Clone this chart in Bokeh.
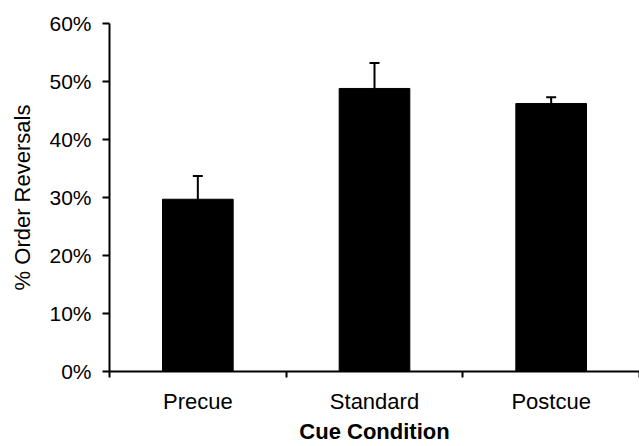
from bokeh.plotting import figure
from bokeh.models import (Range1d, LinearAxis, FixedTicker, NumeralTickFormatter,
                          ColumnDataSource, Whisker, TeeHead)
from bokeh.embed import file_html
from bokeh.resources import INLINE

# ---- data ----
categories = ["Precue", "Standard", "Postcue"]
values = [0.297, 0.488, 0.462]
errors = [0.040, 0.044, 0.011]
y_ticks = [0.0, 0.1, 0.2, 0.3, 0.4, 0.5, 0.6]
x_title = "Cue Condition"
y_title = "% Order Reversals"

xs = [i + 0.5 for i in range(len(categories))]
uppers = [v + e for v, e in zip(values, errors)]
src = ColumnDataSource(dict(x=xs, top=values, upper=uppers))

FONT = "Liberation Sans"

p = figure(width=639, height=446, output_backend="svg", toolbar_location=None,
           x_range=Range1d(0, 3), y_range=Range1d(0, 0.6),
           x_axis_type=None, y_axis_type=None,
           min_border_left=109, min_border_right=0, min_border_top=23,
           min_border_bottom=75)
p.outline_line_color = None
p.xgrid.visible = False
p.ygrid.visible = False
p.background_fill_color = "white"
p.border_fill_color = "white"

p.vbar(x="x", top="top", width=0.4, source=src, fill_color="black", line_color="black")
w = Whisker(base="x", lower="top", upper="upper", source=src,
            line_color="black", line_width=2,
            upper_head=TeeHead(size=10, line_color="black", line_width=2),
            lower_head=None)
p.add_layout(w)

# y axis
ya = LinearAxis(ticker=FixedTicker(ticks=y_ticks, minor_ticks=[]),
                formatter=NumeralTickFormatter(format="0%"))
ya.axis_label = y_title
ya.axis_label_text_font = FONT
ya.axis_label_text_font_size = "22px"
ya.axis_label_text_font_style = "normal"
ya.axis_label_text_color = "black"
ya.axis_label_standoff = 11
ya.major_label_text_font = FONT
ya.major_label_text_font_size = "21px"
ya.major_label_text_color = "black"
ya.major_label_standoff = 11
ya.major_tick_in = 0
ya.major_tick_out = 7
ya.major_tick_line_width = 2
ya.major_tick_line_color = "black"
ya.axis_line_width = 2
ya.axis_line_color = "black"
p.add_layout(ya, "left")

# x axis
xa = LinearAxis(ticker=FixedTicker(ticks=xs, minor_ticks=list(range(len(categories) + 1))))
xa.major_label_overrides = {x: c for x, c in zip(xs, categories)}
xa.axis_label = x_title
xa.axis_label_text_font = FONT
xa.axis_label_text_font_size = "22px"
xa.axis_label_text_font_style = "bold"
xa.axis_label_text_color = "black"
xa.axis_label_standoff = 2
xa.major_label_text_font = FONT
xa.major_label_text_font_size = "22px"
xa.major_label_text_color = "black"
xa.major_label_standoff = 11
xa.major_tick_in = 0
xa.major_tick_out = 0
xa.minor_tick_in = 0
xa.minor_tick_out = 6
xa.minor_tick_line_width = 2
xa.minor_tick_line_color = "black"
xa.axis_line_width = 2
xa.axis_line_color = "black"
p.add_layout(xa, "below")

open("out.html", "w").write(file_html(p, INLINE))
